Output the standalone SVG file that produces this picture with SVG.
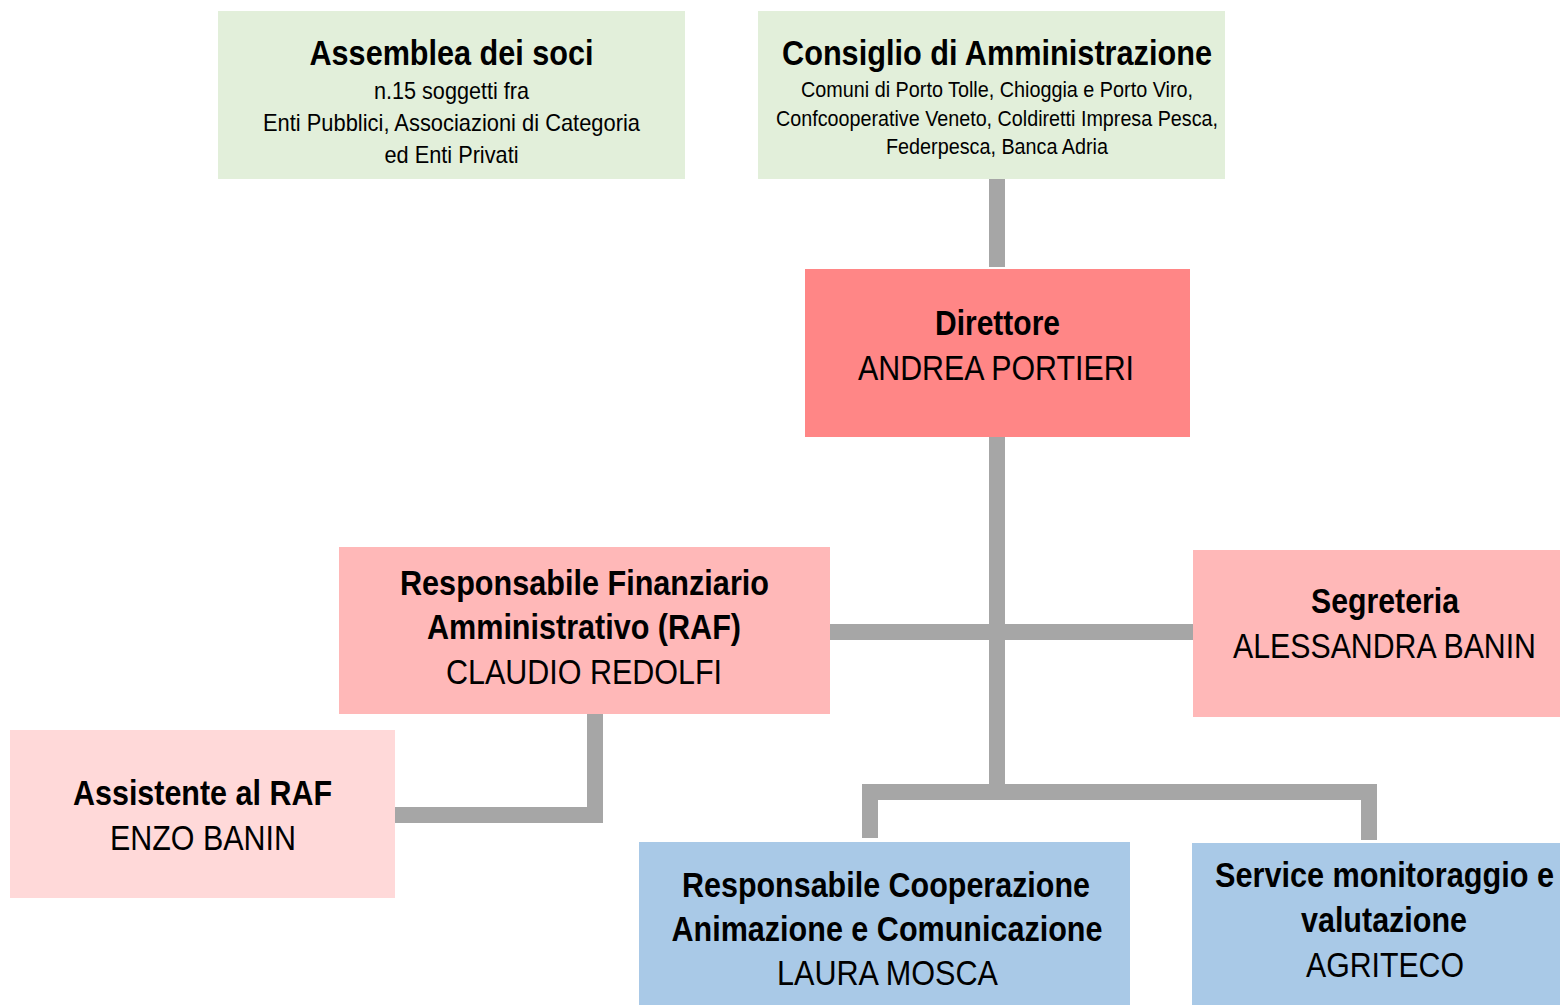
<svg xmlns="http://www.w3.org/2000/svg" width="1560" height="1005" viewBox="0 0 1560 1005">
<style>
text{font-family:"Liberation Sans Narrow","Liberation Sans",Arial,sans-serif;fill:#000;text-anchor:middle}
.t{font-weight:bold;font-size:35px}
.n{font-size:35px}
.s{font-size:24px}
.s2{font-size:22px}
.green{fill:#E2EFDA}
.dir{fill:#FF8686}
.pink{fill:#FFB8B8}
.light{fill:#FFD9D9}
.blue{fill:#A9C9E7}
.conn{fill:none;stroke:#A6A6A6;stroke-width:16;stroke-linejoin:miter}
</style>
<rect width="1560" height="1005" fill="#fff"/>
<g id="connectors">
<path class="conn" d="M997 179V267"/>
<path class="conn" d="M997 437V792"/>
<path class="conn" d="M830 632H1193"/>
<path class="conn" d="M870 838V792H1369V840"/>
<path class="conn" d="M595 714V815H391"/>
</g>
<g id="assemblea">
<rect class="green" x="218" y="11" width="467" height="168"/>
<text class="t" x="451.5" y="65" textLength="284" lengthAdjust="spacingAndGlyphs">Assemblea dei soci</text>
<text class="s" x="451.5" y="99" textLength="155" lengthAdjust="spacingAndGlyphs">n.15 soggetti fra</text>
<text class="s" x="451.5" y="131" textLength="377" lengthAdjust="spacingAndGlyphs">Enti Pubblici, Associazioni di Categoria</text>
<text class="s" x="451.5" y="163" textLength="134" lengthAdjust="spacingAndGlyphs">ed Enti Privati</text>
</g>
<g id="consiglio">
<rect class="green" x="758" y="11" width="467" height="168"/>
<text class="t" x="997" y="65" textLength="430" lengthAdjust="spacingAndGlyphs">Consiglio di Amministrazione</text>
<text class="s2" x="997" y="97" textLength="392" lengthAdjust="spacingAndGlyphs">Comuni di Porto Tolle, Chioggia e Porto Viro,</text>
<text class="s2" x="997" y="126" textLength="442" lengthAdjust="spacingAndGlyphs">Confcooperative Veneto, Coldiretti Impresa Pesca,</text>
<text class="s2" x="997" y="154" textLength="222" lengthAdjust="spacingAndGlyphs">Federpesca, Banca Adria</text>
</g>
<g id="direttore">
<rect class="dir" x="805" y="269" width="385" height="168"/>
<text class="t" x="997.5" y="335" textLength="125" lengthAdjust="spacingAndGlyphs">Direttore</text>
<text class="n" x="996" y="380" textLength="276" lengthAdjust="spacingAndGlyphs">ANDREA PORTIERI</text>
</g>
<g id="raf">
<rect class="pink" x="339" y="547" width="491" height="167"/>
<text class="t" x="584.5" y="595" textLength="369" lengthAdjust="spacingAndGlyphs">Responsabile Finanziario</text>
<text class="t" x="584" y="639" textLength="314" lengthAdjust="spacingAndGlyphs">Amministrativo (RAF)</text>
<text class="n" x="584" y="684" textLength="276" lengthAdjust="spacingAndGlyphs">CLAUDIO REDOLFI</text>
</g>
<g id="segreteria">
<rect class="pink" x="1193" y="550" width="367" height="167"/>
<text class="t" x="1385" y="613" textLength="148" lengthAdjust="spacingAndGlyphs">Segreteria</text>
<text class="n" x="1384.5" y="658" textLength="303" lengthAdjust="spacingAndGlyphs">ALESSANDRA BANIN</text>
</g>
<g id="assistente">
<rect class="light" x="10" y="730" width="385" height="168"/>
<text class="t" x="202.5" y="805" textLength="259" lengthAdjust="spacingAndGlyphs">Assistente al RAF</text>
<text class="n" x="203" y="850" textLength="186" lengthAdjust="spacingAndGlyphs">ENZO BANIN</text>
</g>
<g id="cooperazione">
<rect class="blue" x="639" y="842" width="491" height="163"/>
<text class="t" x="886" y="897" textLength="408" lengthAdjust="spacingAndGlyphs">Responsabile Cooperazione</text>
<text class="t" x="887" y="941" textLength="431" lengthAdjust="spacingAndGlyphs">Animazione e Comunicazione</text>
<text class="n" x="887.5" y="985" textLength="221" lengthAdjust="spacingAndGlyphs">LAURA MOSCA</text>
</g>
<g id="service">
<rect class="blue" x="1192" y="843" width="368" height="162"/>
<text class="t" x="1384.5" y="887" textLength="339" lengthAdjust="spacingAndGlyphs">Service monitoraggio e</text>
<text class="t" x="1384" y="932" textLength="166" lengthAdjust="spacingAndGlyphs">valutazione</text>
<text class="n" x="1385" y="977" textLength="158" lengthAdjust="spacingAndGlyphs">AGRITECO</text>
</g>
</svg>
